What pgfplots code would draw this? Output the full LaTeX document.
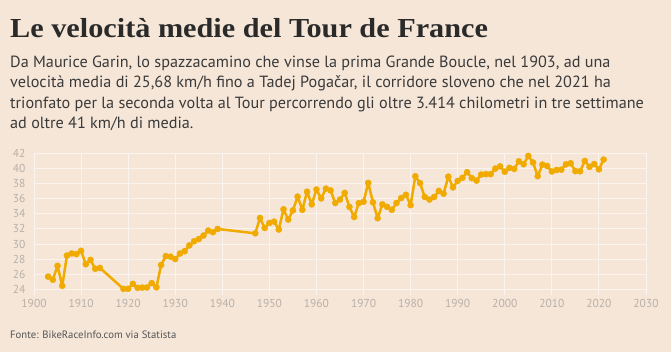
\documentclass[border=0pt]{standalone}
\usepackage{fontspec}
\setmainfont{PT Sans}
\newfontfamily\titlefont[FakeStretch=1.1]{Liberation Serif}
\usepackage{pgfplots}
\pgfplotsset{compat=1.18}
\definecolor{bg}{HTML}{F5E6D8}
\definecolor{linec}{HTML}{F0AA00}
\definecolor{tickc}{HTML}{B8B0A8}
\definecolor{gridc}{HTML}{FBF4EE}
\definecolor{titlec}{HTML}{2A2A2A}
\definecolor{textc}{HTML}{3A3A3A}
\definecolor{srcc}{HTML}{555555}
\begin{document}
\begin{tikzpicture}
\useasboundingbox (0pt,0pt) rectangle (671pt,352pt);
\fill[bg] (0pt,0pt) rectangle (671pt,352pt);
\node[anchor=base west, inner sep=0, text=titlec, font=\titlefont\bfseries\fontsize{27.5}{30}\selectfont] at (10pt,314.5pt) {Le velocità medie del Tour de France};
\begin{scope}[every node/.style={anchor=base west, inner sep=0, text=textc, font=\fontsize{16.2}{18}\selectfont}]
\node at (10pt,284.5pt) {Da Maurice Garin, lo spazzacamino che vinse la prima Grande Boucle, nel 1903, ad una};
\node at (10pt,264pt) {velocità media di 25,68 km/h fino a Tadej Pogačar, il corridore sloveno che nel 2021 ha};
\node at (10pt,243.5pt) {trionfato per la seconda volta al Tour percorrendo gli oltre 3.414 chilometri in tre settimane};
\node at (10pt,223pt) {ad oltre 41 km/h di media.};
\end{scope}
\node[anchor=base west, inner sep=0, text=srcc, font=\fontsize{10.7}{12}\selectfont] at (10pt,13.5pt) {Fonte: BikeRaceInfo.com via Statista};
\begin{axis}[
  at={(34pt,57pt)}, anchor=south west, scale only axis,
  width=612pt, height=141.7pt,
  xmin=1900, xmax=2030, ymin=23.25, ymax=42,
  xtick={1900,1910,...,2030}, ytick={24,26,...,42},
  axis line style={draw=none},
  major tick length=0pt,
  grid=major, grid style={gridc, line width=0.9pt},
  tick label style={text=tickc, font=\fontsize{11.5}{13}\selectfont},
  /pgf/number format/assume math mode=true,
  /pgf/number format/1000 sep={},
  yticklabel style={xshift=-5pt},
  xticklabel style={yshift=-1pt},
  clip=false,
]
\addplot[linec, line width=2.5pt, line join=round, mark=*, mark size=3.1pt, mark options={fill=linec, draw=linec, line width=0.3pt}] coordinates {
(1903,25.68)(1904,25.27)(1905,27.11)(1906,24.46)(1907,28.47)(1908,28.74)(1909,28.66)(1910,29.10)
(1911,27.32)(1912,27.89)(1913,26.72)(1914,26.83)
(1919,24.06)(1920,24.07)(1921,24.72)(1922,24.20)(1923,24.23)(1924,24.25)(1925,24.82)(1926,24.27)
(1927,27.22)(1928,28.40)(1929,28.32)(1930,28.01)(1931,28.74)(1932,29.05)(1933,29.81)(1934,30.36)
(1935,30.65)(1936,31.11)(1937,31.77)(1938,31.56)(1939,31.99)
(1947,31.41)(1948,33.44)(1949,32.12)(1950,32.78)(1951,32.95)(1952,31.91)(1953,34.59)(1954,33.23)
(1955,34.45)(1956,36.27)(1957,34.52)(1958,36.92)(1959,35.24)(1960,37.21)(1961,36.03)(1962,37.32)
(1963,37.09)(1964,35.42)(1965,35.88)(1966,36.76)(1967,34.91)(1968,33.57)(1969,35.41)(1970,35.59)
(1971,38.08)(1972,35.51)(1973,33.41)(1974,35.24)(1975,34.91)(1976,34.52)(1977,35.42)(1978,36.08)
(1979,36.51)(1980,35.14)(1981,38.96)(1982,38.06)(1983,36.23)(1984,35.88)(1985,36.22)(1986,37.02)
(1987,36.65)(1988,38.91)(1989,37.49)(1990,38.35)(1991,38.75)(1992,39.50)(1993,38.71)(1994,38.38)
(1995,39.19)(1996,39.24)(1997,39.24)(1998,39.98)(1999,40.27)(2000,39.56)(2001,40.07)(2002,39.93)
(2003,40.94)(2004,40.55)(2005,41.65)(2006,40.78)(2007,38.97)(2008,40.50)(2009,40.32)(2010,39.59)
(2011,39.79)(2012,39.83)(2013,40.54)(2014,40.68)(2015,39.64)(2016,39.62)(2017,40.99)(2018,40.21)
(2019,40.58)(2020,39.87)(2021,41.17)
};
\end{axis}
\end{tikzpicture}
\end{document}
